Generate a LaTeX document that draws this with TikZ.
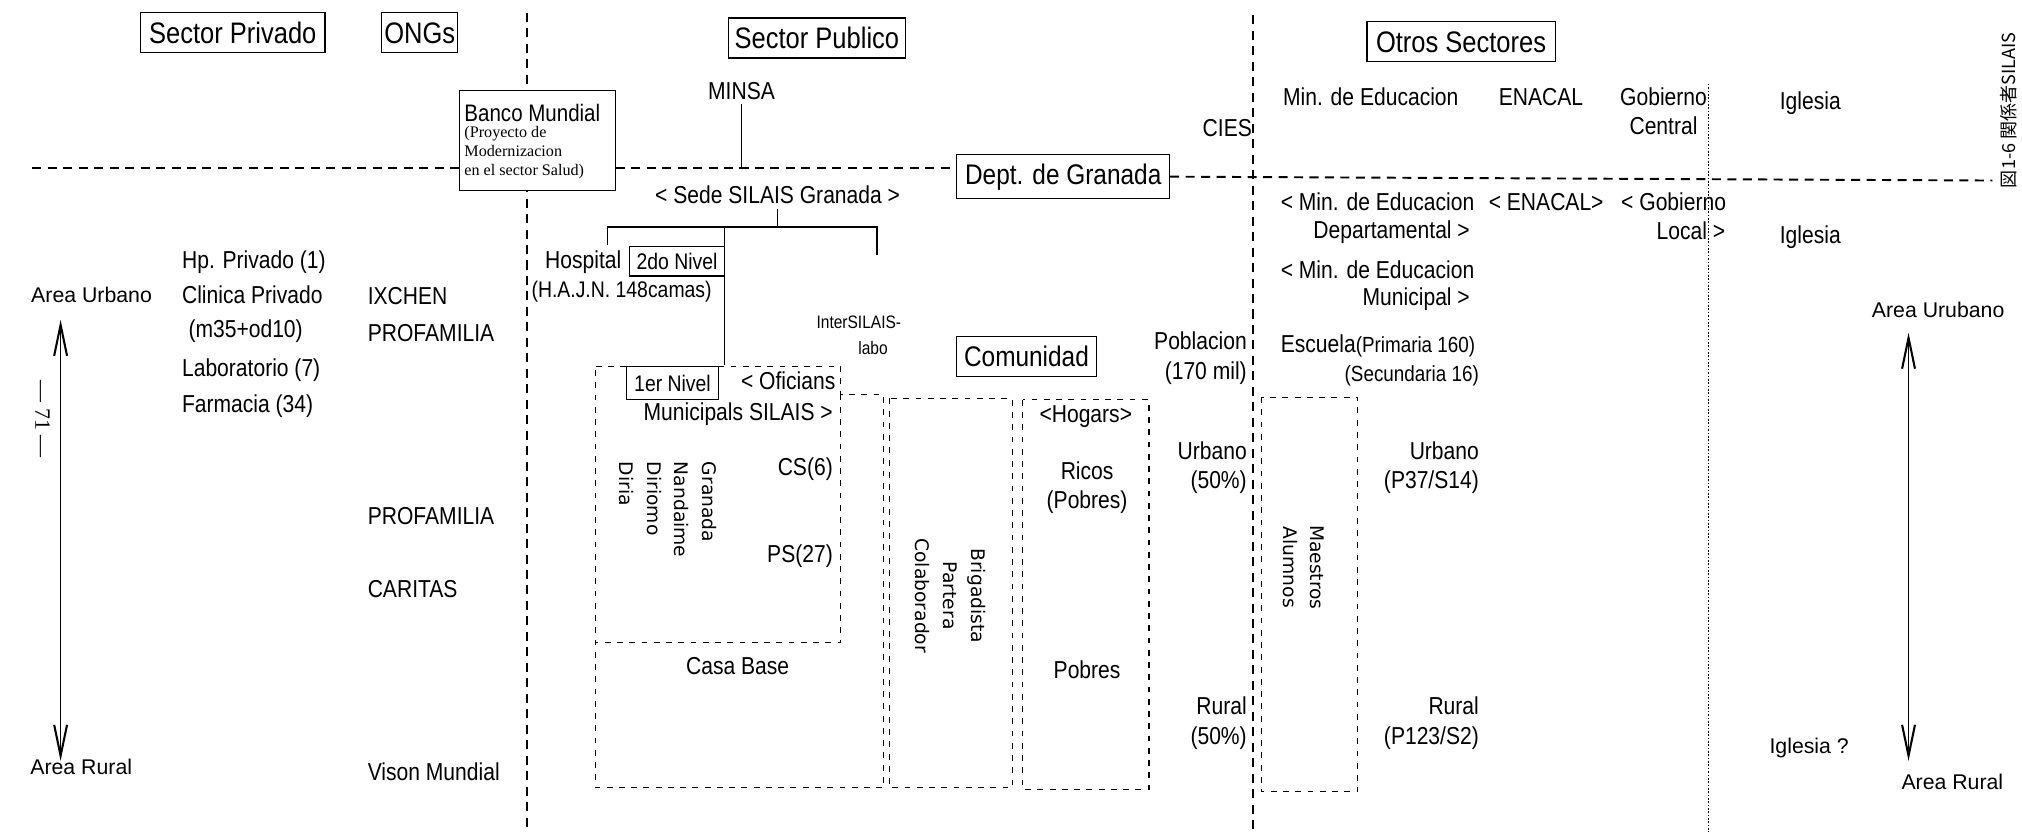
\documentclass[tikz,border=0pt]{standalone}
\usepackage{fontspec}
\setmainfont{Liberation Sans}[FakeStretch=0.86]
\newfontfamily\plainsans{Liberation Sans}
\newfontfamily\serifface{Liberation Serif}
\newfontfamily\roundsans{DejaVu Sans}
\newfontfamily\cjkface{Noto Sans CJK JP}
\usetikzlibrary{arrows.meta}

\tikzset{
  hdr/.style={draw, line width=0.9pt, inner sep=0pt, fill=white, font=\fontsize{23}{25}\selectfont},
  tagbox/.style={draw, line width=0.9pt, inner sep=0pt, fill=white, font=\fontsize{17.5}{19}\selectfont},
  lbl/.style={inner sep=0pt, text height=13.5pt, text depth=3.5pt, font=\fontsize{19}{21}\selectfont},
  sml/.style={inner sep=0pt, text height=12pt, text depth=3pt, font=\fontsize{17}{19}\selectfont},
  area/.style={inner sep=0pt, text height=12pt, text depth=3pt, font=\plainsans\fontsize{16.5}{19}\selectfont},
  vert/.style={inner sep=0pt, rotate=-90, font=\roundsans\fontsize{14.5}{21.5}\selectfont},
  sepline/.style={line width=1.5pt, dash pattern=on 7pt off 5pt},
  zone/.style={line width=0.9pt, dash pattern=on 4.5pt off 5pt},
  dotsep/.style={line width=1.1pt, dash pattern=on 1.3pt off 1.3pt},
  link/.style={line width=1pt},
  span/.style={line width=1.3pt,
    {Straight Barb[length=24pt,width=10pt,line width=1.6pt]}-{Straight Barb[length=24pt,width=10pt,line width=1.6pt]}},
}

\begin{document}
\begin{tikzpicture}[x=1pt,y=-1pt]
\useasboundingbox (0,0) rectangle (1568,647);
\fill[white] (0,0) rectangle (1568,647);

% ---------- separators ----------
\coordinate (v1top) at (409,10);   \coordinate (v1bot) at (409,645);
\coordinate (v2top) at (972,12);   \coordinate (v2bot) at (972,645);
\coordinate (v3top) at (1325,65);  \coordinate (v3bot) at (1325,645);
\draw[sepline] (v1top) -- (v1bot);
\draw[sepline] (v2top) -- (v2bot);
\draw[dotsep]  (v3top) -- (v3bot);

% ---------- sector headers ----------
\node[hdr, minimum width=143pt, minimum height=31pt] (privado) at (180.5,25.5) {Sector Privado};
\node[hdr, minimum width=59pt,  minimum height=31pt] (ongs)    at (325.5,25.5) {ONGs};
\node[hdr, minimum width=137pt, minimum height=31pt] (publico) at (633.5,29.5) {Sector Publico};
\node[hdr, minimum width=146pt, minimum height=31pt] (otros)   at (1133,32.5) {Otros Sectores};

% ---------- national / departmental level ----------
\node[draw, fill=white, line width=0.9pt, inner sep=0pt, minimum width=121pt, minimum height=78pt] (banco) at (416.5,109) {};
\node[lbl, anchor=west, font=\fontsize{18.5}{20}\selectfont] (bancot) at (360,89) {Banco Mundial};
\node[anchor=north west, inner sep=0pt, align=left, font=\serifface\fontsize{12.5}{14.5}\selectfont] (proyecto) at (360,98)
  {(Proyecto de\\Modernizacion\\en el sector Salud)};

\node[hdr, font=\fontsize{22}{24}\selectfont, minimum width=165pt, minimum height=34pt] (dept) at (824.5,137) {Dept. de Granada};

\coordinate (hl) at (25,130);
\coordinate (hr) at (1545,140);
\draw[sepline] (hl) -- (hl -| banco.west);
\draw[sepline] (hl -| banco.east) -- (hl -| dept.west);
\draw[sepline] (dept.east) -- (hr);

\node[lbl] (minsa) at (575,72) {MINSA};
\coordinate (minsafoot) at (575,130);
\draw[link] (minsa.south) -- (minsafoot);

\node[lbl] (sede) at (603,153) {< Sede SILAIS Granada >};
\coordinate (bar) at (603,176);
\draw[link] (sede.south) -- (bar);

\coordinate (hospTop) at (471,190);
\coordinate (ofTop)   at (562,283);
\coordinate (labTop)  at (680,198);
\draw[link] (hospTop) -- (hospTop |- bar) -- (labTop |- bar) -- (labTop);
\draw[link] (ofTop |- bar) -- (ofTop);

% ---------- hospital (second level) ----------
\node[lbl, anchor=east] (hosp) at (482,203) {Hospital};
\node[tagbox, minimum width=74pt, minimum height=23pt] (nivel2) at (525,202.5) {2do Nivel};
\node[lbl, anchor=west, font=\fontsize{17.5}{19}\selectfont] (hajn) at (412,226) {(H.A.J.N. 148camas)};
\node[lbl, font=\fontsize{14}{16}\selectfont] (inter) at (666,250) {InterSILAIS-};
\node[lbl, font=\fontsize{14}{16}\selectfont] (labo)  at (677,270) {labo};

% ---------- first level zones ----------
\coordinate (za) at (462,284);
\coordinate (zb) at (652,284);
\coordinate (zc) at (652,306);
\coordinate (zd) at (685,306);
\coordinate (ze) at (685,611);
\coordinate (zf) at (462,611);
\coordinate (zg) at (652,498);
\coordinate (zh) at (462,498);
\draw[zone] (za) -- (zb) -- (zc) -- (zd) -- (ze) -- (zf) -- cycle;
\draw[zone] (zc) -- (zg) -- (zh);

\node[tagbox, minimum width=71pt, minimum height=26pt] (nivel1) at (521.5,297) {1er Nivel};
\node[lbl, anchor=east] (ofic)  at (648,297) {< Oficians};
\node[lbl, anchor=east] (munic) at (646,321) {Municipals SILAIS >};
\node[lbl, anchor=east] (cs)    at (646,364) {CS(6)};
\node[lbl, anchor=east] (ps)    at (646,431) {PS(27)};
\node[vert, align=left, anchor=north west] (munis) at (556,358) {Granada\\Nandaime\\Diriomo\\Diria};
\node[lbl] (casa) at (572,518) {Casa Base};

% ---------- community ----------
\draw[zone] (690,309) rectangle (785,611);
\draw[zone] (793,310) rectangle (891,612);
\node[vert, align=center] (agentes) at (737,462) {Brigadista\\Partera\\Colaborador};
\node[hdr, font=\fontsize{22}{24}\selectfont, minimum width=108pt, minimum height=31pt] (comu) at (796,276.5) {Comunidad};
\node[lbl] (hogars) at (842,323) {<Hogars>};
\node[lbl] (ricos)  at (843,367) {Ricos};
\node[lbl] (pobr1)  at (843,389) {(Pobres)};
\node[lbl] (pobr2)  at (843,521) {Pobres};

\node[lbl, anchor=east] (pobl)  at (967,266) {Poblacion};
\node[lbl, anchor=east] (mil)   at (967,289) {(170 mil)};
\node[lbl, anchor=east] (urb1)  at (967,351) {Urbano};
\node[lbl, anchor=east] (urbp)  at (967,374) {(50\%)};
\node[lbl, anchor=east] (rur1)  at (967,549) {Rural};
\node[lbl, anchor=east] (rurp)  at (967,572) {(50\%)};
\node[lbl, anchor=east] (cies)  at (971,101) {CIES};

% ---------- other sectors ----------
\node[lbl] (mined)  at (1063,77) {Min. de Educacion};
\node[lbl] (enacal) at (1195,77) {ENACAL};
\node[lbl] (gob)    at (1290,77) {Gobierno};
\node[lbl] (cent)   at (1290,99) {Central};
\node[lbl, anchor=west] (igl1) at (1380,80) {Iglesia};

\node[lbl, anchor=west] (mdep)  at (993,158) {< Min. de Educacion};
\node[lbl, anchor=east] (mdep2) at (1140,180) {Departamental >};
\node[lbl] (enacal2) at (1199,158) {< ENACAL>};
\node[lbl, anchor=west] (gloc)  at (1257,158) {< Gobierno};
\node[lbl, anchor=east] (gloc2) at (1338,181) {Local >};
\node[lbl, anchor=west] (igl2)  at (1380,184) {Iglesia};

\node[lbl, anchor=west] (mmun)  at (993,211) {< Min. de Educacion};
\node[lbl, anchor=east] (mmun2) at (1140,232) {Municipal >};
\node[lbl, anchor=west] (esc)   at (993,268) {Escuela{\fontsize{17}{19}\selectfont(Primaria 160)}};
\node[sml, anchor=east] (secu)  at (1147,291) {(Secundaria 16)};

\draw[zone] (978,308) rectangle (1053,614);
\node[vert, align=center] (aula) at (1011,440) {Maestros\\Alumnos};

\node[lbl, anchor=east] (urb2)  at (1147,351) {Urbano};
\node[lbl, anchor=east] (urbn)  at (1147,374) {(P37/S14)};
\node[lbl, anchor=east] (rur2)  at (1147,549) {Rural};
\node[lbl, anchor=east] (rurn)  at (1147,572) {(P123/S2)};

\node[area] (arurb) at (1503,242) {Area Urubano};
\node[area] (arrur) at (1514,608) {Area Rural};
\node[area, anchor=west] (igl3) at (1372,580) {Iglesia ?};
\coordinate (ru) at (1480,258);
\coordinate (rd) at (1480,590);
\draw[span] (ru) -- (rd);

% ---------- private sector and NGOs ----------
\node[area] (alurb) at (71,230) {Area Urbano};
\node[area] (alrur) at (63,596) {Area Rural};
\coordinate (lu) at (47,248);
\coordinate (ld) at (47,590);
\draw[span] (lu) -- (ld);

\node[lbl, anchor=west] (hp)   at (141,203) {Hp. Privado (1)};
\node[lbl, anchor=west] (clin) at (141,230) {Clinica Privado};
\node[lbl, anchor=west] (mod)  at (146,257) {(m35+od10)};
\node[lbl, anchor=west] (lab)  at (141,287) {Laboratorio (7)};
\node[lbl, anchor=west] (farm) at (141,315) {Farmacia (34)};

\node[lbl, anchor=west] (ixchen) at (285,231) {IXCHEN};
\node[lbl, anchor=west] (prof1)  at (285,260) {PROFAMILIA};
\node[lbl, anchor=west] (prof2)  at (285,402) {PROFAMILIA};
\node[lbl, anchor=west] (carit)  at (285,458) {CARITAS};
\node[lbl, anchor=west] (vison)  at (285,600) {Vison Mundial};

% ---------- page furniture ----------
\node[rotate=-90, inner sep=0pt, font=\serifface\fontsize{17}{19}\selectfont] (pageno) at (33,325) {— 71 —};
\node[rotate=90, anchor=west, inner sep=0pt, font=\cjkface\fontsize{14}{16}\selectfont] (caption) at (1558,146) {図1-6 関係者SILAIS};
\end{tikzpicture}
\end{document}
